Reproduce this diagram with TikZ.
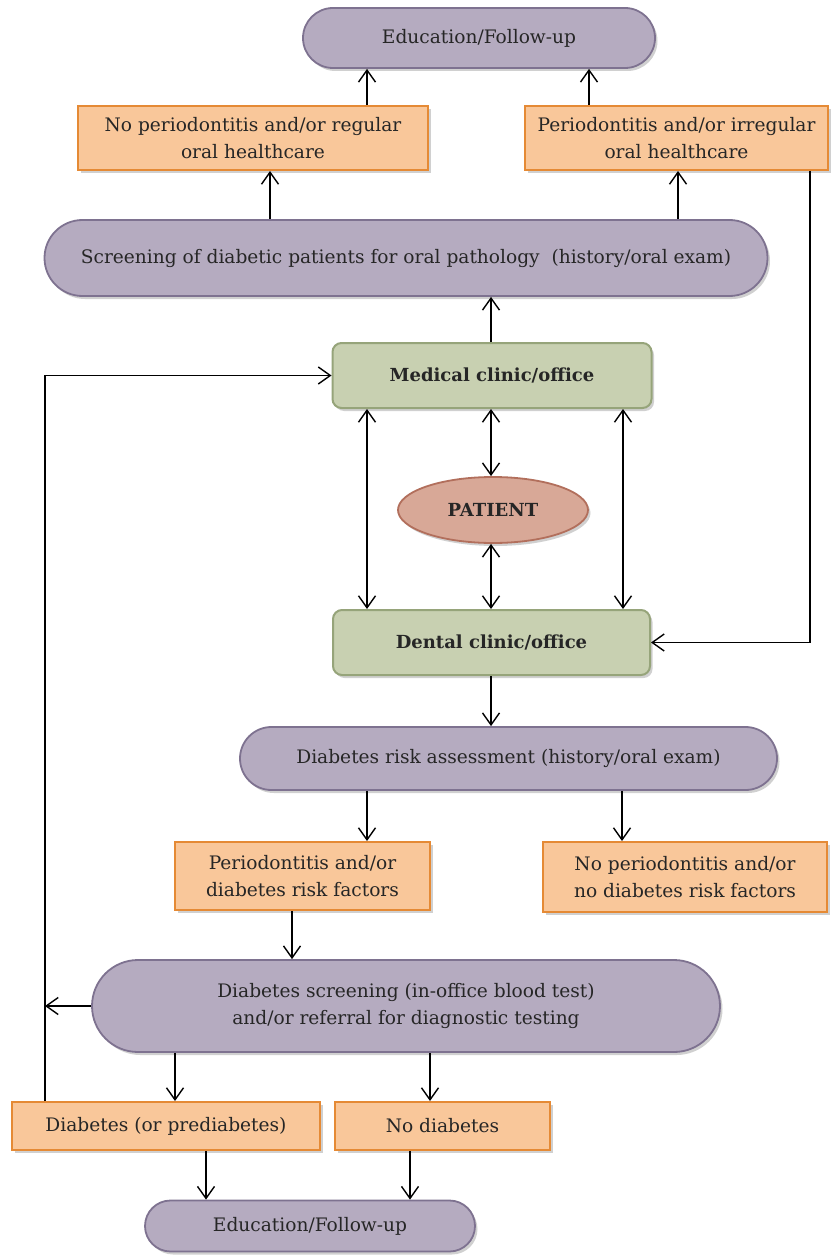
\documentclass[tikz,border=0pt]{standalone}
\usepackage{fontspec}
\setmainfont{DejaVu Serif}
\usetikzlibrary{arrows.meta,shapes.geometric,shapes.misc,shadows}
\definecolor{lav}{HTML}{B5ABC0}
\definecolor{lavd}{HTML}{7E7290}
\definecolor{org}{HTML}{F9C79A}
\definecolor{orgd}{HTML}{E58A35}
\definecolor{grn}{HTML}{C8D0B1}
\definecolor{grnd}{HTML}{96A47A}
\definecolor{pat}{HTML}{D8A897}
\definecolor{patd}{HTML}{B26F5C}
\begin{document}
\begin{tikzpicture}[x=1pt,y=-1pt,
  every node/.style={font=\fontsize{18.6}{27}\selectfont, align=center, inner sep=0pt, text=black!85},
  shad/.style={drop shadow={shadow xshift=2.5pt,shadow yshift=-3pt,opacity=0.3,fill=black!60}},
  oval/.style={rounded rectangle, draw=lavd, line width=1.8pt, fill=lav, shad},
  obox/.style={rectangle, draw=orgd, line width=2pt, fill=org, shad},
  gbox/.style={rectangle, rounded corners=9pt, draw=grnd, line width=2pt, fill=grn, shad, font=\fontsize{18}{27}\selectfont\bfseries},
  pell/.style={ellipse, draw=patd, line width=1.8pt, fill=pat, shad, font=\fontsize{18}{27}\selectfont\bfseries},
  tip/.style={},
  arr/.style={-{Straight Barb[length=12pt,width=17pt,line width=1.4pt]}, line width=1.5pt},
  darr/.style={{Straight Barb[length=12pt,width=17pt,line width=1.4pt]}-{Straight Barb[length=12pt,width=17pt,line width=1.4pt]}, line width=1.5pt}
]
\useasboundingbox[fill=white] (0,0) rectangle (832,1257);

\node[oval, minimum width=352pt, minimum height=60pt] (edu1) at (479,38) {Education/Follow-up};
\node[obox, minimum width=350pt, minimum height=64pt] (nob) at (253,138) {No periodontitis and/or regular\\oral healthcare};
\node[obox, minimum width=303pt, minimum height=64pt] (pb) at (676.5,138) {Periodontitis and/or irregular\\oral healthcare};
\node[oval, minimum width=723pt, minimum height=76pt] (scr) at (406,258) {Screening of diabetic patients for oral pathology\ \ (history/oral exam)};
\node[gbox, minimum width=319pt, minimum height=65pt] (med) at (492,375.5) {Medical clinic/office};
\node[pell, minimum width=190pt, minimum height=66pt] (pat) at (493,510) {PATIENT};
\node[gbox, minimum width=317pt, minimum height=65pt] (den) at (491.5,642.5) {Dental clinic/office};
\node[oval, minimum width=537pt, minimum height=63pt] (risk) at (508.5,758.5) {Diabetes risk assessment (history/oral exam)};
\node[obox, minimum width=255pt, minimum height=68pt] (prf) at (302.5,876) {Periodontitis and/or\\diabetes risk factors};
\node[obox, minimum width=284pt, minimum height=70pt] (nprf) at (685,877) {No periodontitis and/or\\no diabetes risk factors};
\node[oval, minimum width=628pt, minimum height=92pt] (dscr) at (406,1006) {Diabetes screening (in-office blood test)\\and/or referral for diagnostic testing};
\node[obox, minimum width=308pt, minimum height=48pt] (dia) at (166,1126) {Diabetes (or prediabetes)};
\node[obox, minimum width=215pt, minimum height=48pt] (nod) at (442.5,1126) {No diabetes};
\node[oval, minimum width=330pt, minimum height=51pt] (edu2) at (310,1226) {Education/Follow-up};

% top part
\draw[arr] (367,0 |- nob.north) -- (367,0 |- edu1.south);
\draw[arr] (589,0 |- pb.north) -- (589,0 |- edu1.south);
\draw[arr] (270,0 |- scr.north) -- (270,0 |- nob.south);
\draw[arr] (678,0 |- scr.north) -- (678,0 |- pb.south);
\draw[arr] (491,0 |- med.north) -- (491,0 |- scr.south);

% double arrows
\draw[darr] (491,0 |- med.south) -- (491,0 |- pat.north);
\draw[darr] (491,0 |- pat.south) -- (491,0 |- den.north);
\draw[darr] (367,0 |- med.south) -- (367,0 |- den.north);
\draw[darr] (623,0 |- med.south) -- (623,0 |- den.north);

% right loop
\draw[arr] (810,0 |- pb.south) -- (810,0 |- den.east) -- (den.east);

% lower part
\draw[arr] (491,0 |- den.south) -- (491,0 |- risk.north);
\draw[arr] (367,0 |- risk.south) -- (367,0 |- prf.north);
\draw[arr] (622,0 |- risk.south) -- (622,0 |- nprf.north);
\draw[arr] (292,0 |- prf.south) -- (292,0 |- dscr.north);
\draw[arr] (175,0 |- dscr.south) -- (175,0 |- dia.north);
\draw[arr] (430,0 |- dscr.south) -- (430,0 |- nod.north);
\draw[arr] (206,0 |- dia.south) -- (206,0 |- edu2.north);
\draw[arr] (410,0 |- nod.south) -- (410,0 |- edu2.north);

% left loop
\draw[arr] (45,0 |- dia.north) -- (45,0 |- med.west) -- (med.west);
\draw[arr] (dscr.west) -- (45,0 |- dscr.west);
\end{tikzpicture}
\end{document}
